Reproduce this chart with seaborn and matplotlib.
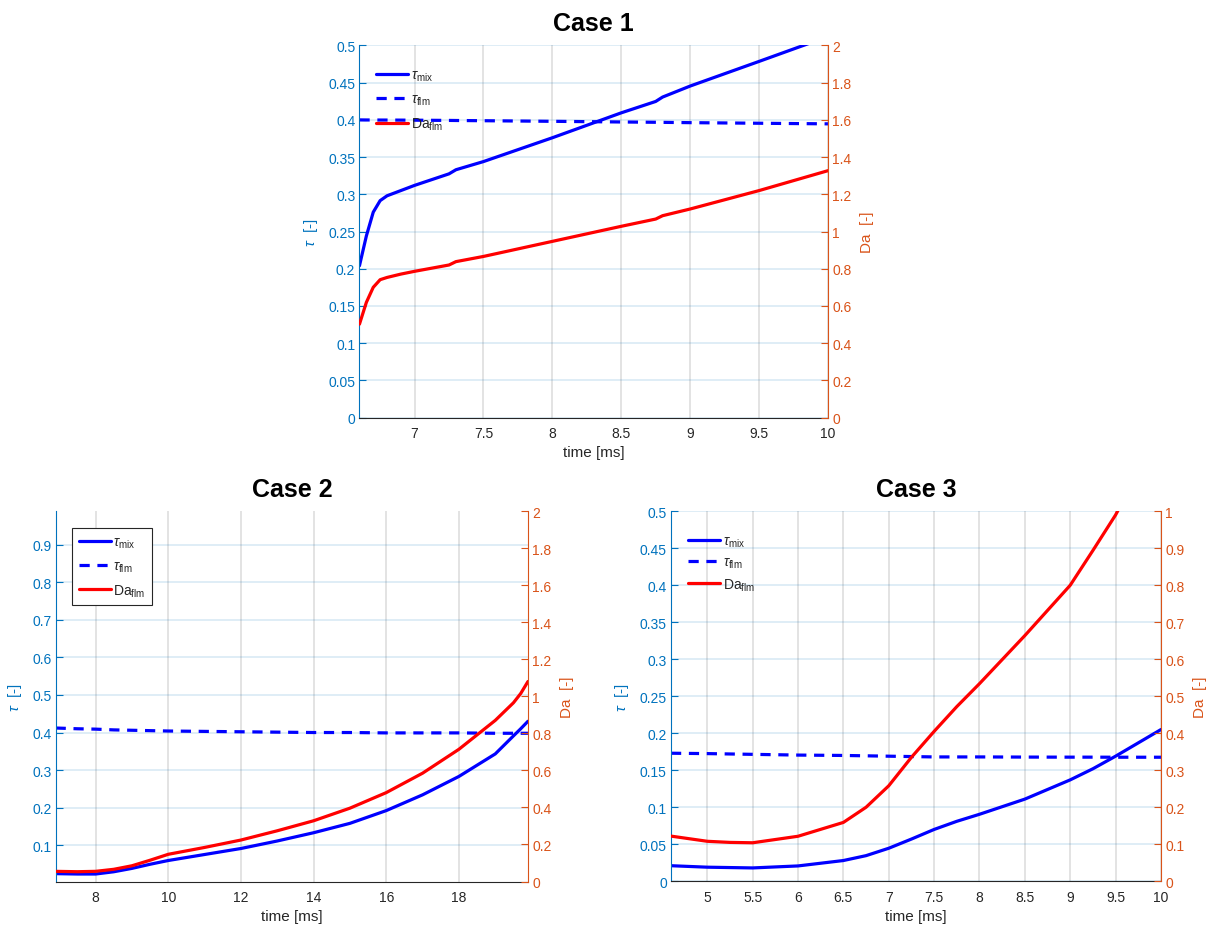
import numpy as np
import pandas as pd
import seaborn as sns
import matplotlib.pyplot as plt
from matplotlib.ticker import FuncFormatter

# ---- data ----
c1_t = [6.6, 6.65, 6.7, 6.75, 6.8, 6.9, 7.0, 7.25, 7.3, 7.5, 8.0, 8.5, 8.75, 8.8, 9.0, 9.5, 10.0]
c1_tau_mix = [0.204, 0.244, 0.276, 0.2915, 0.298, 0.305, 0.312, 0.3275, 0.333, 0.344, 0.376,
              0.4095, 0.4248, 0.4307, 0.4455, 0.4786, 0.512]
c1_tau_flm = [0.4000, 0.3999, 0.3999, 0.3998, 0.3998, 0.3997, 0.3996, 0.3993, 0.3992, 0.3989,
              0.3981, 0.3972, 0.3968, 0.3967, 0.3963, 0.3955, 0.3947]
c1_da = [0.502, 0.619, 0.700, 0.741, 0.753, 0.771, 0.786, 0.820, 0.838, 0.866, 0.947,
         1.028, 1.067, 1.085, 1.121, 1.220, 1.327]

c2_t = [6.9, 7.5, 8.0, 8.5, 9.0, 9.5, 10.0, 11.0, 12.0, 13.0, 14.0, 15.0, 16.0, 17.0,
        18.0, 19.0, 19.5, 19.7, 19.9]
c2_tau_mix = [0.024, 0.023, 0.023, 0.029, 0.038, 0.049, 0.059, 0.075, 0.091, 0.111, 0.133,
              0.158, 0.192, 0.234, 0.283, 0.343, 0.391, 0.410, 0.430]
c2_tau_flm = [0.412, 0.410, 0.409, 0.407, 0.406, 0.405, 0.404, 0.403, 0.402, 0.401, 0.400,
              0.400, 0.399, 0.399, 0.399, 0.398, 0.398, 0.398, 0.398]
c2_da = [0.055, 0.053, 0.055, 0.066, 0.085, 0.115, 0.147, 0.184, 0.224, 0.274, 0.328, 0.396,
         0.480, 0.585, 0.714, 0.870, 0.965, 1.015, 1.080]

c3_t = [4.6, 5.0, 5.25, 5.5, 6.0, 6.5, 6.75, 7.0, 7.25, 7.5, 7.75, 8.0, 8.5, 9.0, 9.25, 9.5, 10.0]
c3_tau_mix = [0.021, 0.019, 0.0185, 0.018, 0.0207, 0.028, 0.0346, 0.0446, 0.057, 0.070,
              0.081, 0.0905, 0.111, 0.137, 0.152, 0.169, 0.205]
c3_tau_flm = [0.173, 0.1725, 0.172, 0.1715, 0.1705, 0.170, 0.1695, 0.169, 0.1685, 0.168,
              0.168, 0.168, 0.1678, 0.1677, 0.1677, 0.1676, 0.1676]
c3_da = [0.122, 0.108, 0.105, 0.104, 0.1216, 0.159, 0.20, 0.258, 0.335, 0.405, 0.472, 0.534,
         0.664, 0.80, 0.894, 0.99, 1.22]

sns.set_style("white")
plt.rcParams['font.family'] = ['Liberation Sans', 'DejaVu Sans']
plt.rcParams['mathtext.fontset'] = 'custom'
plt.rcParams['mathtext.rm'] = 'Liberation Sans'
plt.rcParams['mathtext.it'] = 'Liberation Sans:italic'

BLUE_AX = '#0072BD'
RED_AX = '#D95319'
DARK = '#262626'

fig = plt.figure(figsize=(12.14, 9.28), dpi=100)

cases = [
    dict(title='Case 1', t=c1_t, mix=c1_tau_mix, flm=c1_tau_flm, da=c1_da,
         pos=[0.2961, 0.549, 0.3859, 0.4009], xlim=(6.6, 10), xt=np.arange(7, 10.01, 0.5),
         ylim=(0, 0.5), yt=np.arange(0, 0.501, 0.05), y2lim=(0, 2), y2t=np.arange(0, 2.01, 0.2),
         legbox=False, leg_anchor=(0.008, 0.975), lspace=0.6),
    dict(title='Case 2', t=c2_t, mix=c2_tau_mix, flm=c2_tau_flm, da=c2_da,
         pos=[0.0461, 0.049, 0.3888, 0.3992], xlim=(6.91, 19.9), xt=np.arange(8, 19, 2),
         ylim=(0.003, 0.99), yt=np.arange(0.1, 0.91, 0.1), y2lim=(0, 2), y2t=np.arange(0, 2.01, 0.2),
         legbox=True, leg_anchor=(0.02, 0.972), lspace=0.6),
    dict(title='Case 3', t=c3_t, mix=c3_tau_mix, flm=c3_tau_flm, da=c3_da,
         pos=[0.5527, 0.0493, 0.4036, 0.3987], xlim=(4.6, 10), xt=np.arange(5, 10.01, 0.5),
         ylim=(0, 0.5), yt=np.arange(0, 0.501, 0.05), y2lim=(0, 1), y2t=np.arange(0, 1.01, 0.1),
         legbox=False, leg_anchor=(0.008, 0.975), lspace=0.42),
]

gfmt = FuncFormatter(lambda v, p: ('%.2f' % v).rstrip('0').rstrip('.'))

for c in cases:
    ax = fig.add_axes(c['pos'])
    ax2 = ax.twinx()
    df = pd.DataFrame({'t': c['t'], 'mix': c['mix'], 'flm': c['flm'], 'da': c['da']})

    sns.lineplot(data=df, x='t', y='mix', ax=ax, color='#0000FF', lw=2.3, label=r'$\tau_{\mathrm{mix}}$', legend=False)
    sns.lineplot(data=df, x='t', y='flm', ax=ax, color='#0000FF', lw=2.3, label=r'$\tau_{\mathrm{flm}}$', legend=False)
    ax.lines[1].set_linestyle((0, (3.2, 2.4)))
    sns.lineplot(data=df, x='t', y='da', ax=ax2, color='#FF0000', lw=2.3, label=r'$\mathrm{Da}_{\mathrm{flm}}$', legend=False)

    ax.set_xlim(*c['xlim'])
    ax.set_ylim(*c['ylim'])
    ax2.set_ylim(*c['y2lim'])
    ax.set_xticks(c['xt'])
    ax.set_yticks(c['yt'])
    ax2.set_yticks(c['y2t'])
    ax.xaxis.set_major_formatter(gfmt)
    ax.yaxis.set_major_formatter(gfmt)
    ax2.yaxis.set_major_formatter(gfmt)

    # grid
    ax.grid(True, axis='x', color=DARK, alpha=0.15, lw=1.2)
    ax.grid(True, axis='y', color=BLUE_AX, alpha=0.15, lw=1.2)
    ax.set_axisbelow(True)

    # spines
    for a in (ax, ax2):
        a.spines['top'].set_visible(False)
    ax.spines['left'].set_color(BLUE_AX)
    ax.spines['bottom'].set_color(DARK)
    ax.spines['right'].set_visible(False)
    ax2.spines['left'].set_visible(False)
    ax2.spines['bottom'].set_visible(False)
    ax2.spines['right'].set_color(RED_AX)

    ax.tick_params(axis='x', direction='in', length=5, colors=DARK, labelsize=10, pad=6)
    ax.tick_params(axis='y', direction='in', length=5, colors=BLUE_AX, labelsize=10, pad=3)
    ax2.tick_params(axis='y', direction='in', length=5, colors=RED_AX, labelsize=10, pad=3)

    ax.set_xlabel('time [ms]', color=DARK, fontsize=11, labelpad=4)
    ax.set_ylabel(r'$\tau$  [-]', color=BLUE_AX, fontsize=11, labelpad=6)
    ax2.set_ylabel('Da  [-]', color=RED_AX, fontsize=11, labelpad=6)
    ax.set_title(c['title'], fontsize=18, fontweight='bold', color='black', pad=11)

    handles = [ax.lines[0], ax.lines[1], ax2.lines[0]]
    labels = [h.get_label() for h in handles]
    leg = ax2.legend(handles, labels, loc='upper left', bbox_to_anchor=c['leg_anchor'],
                     frameon=c['legbox'], fontsize=10, handlelength=2.3, handletextpad=0.2,
                     labelspacing=c['lspace'], borderpad=0.45, fancybox=False)
    if c['legbox']:
        leg.get_frame().set_edgecolor(DARK)
        leg.get_frame().set_linewidth(0.8)
        leg.get_frame().set_alpha(1)

fig.savefig('out.png', dpi=100)
